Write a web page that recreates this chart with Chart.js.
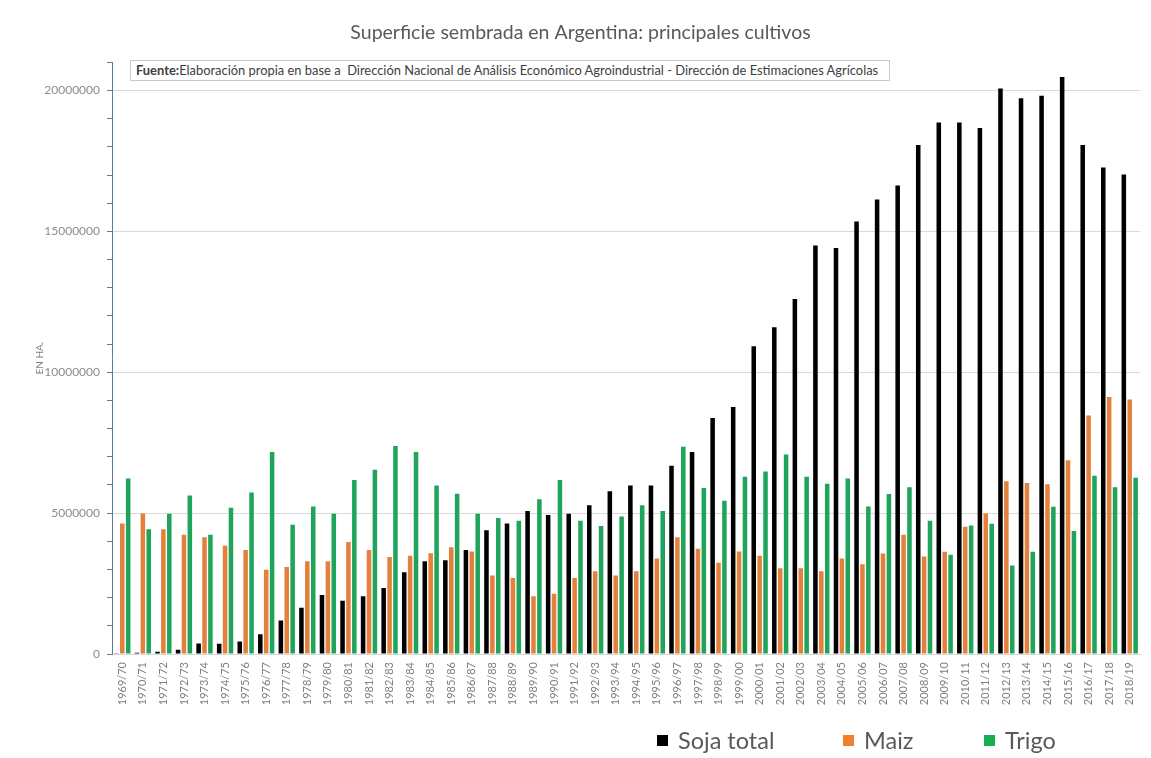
<!DOCTYPE html>
<html>
<head>
<meta charset="utf-8">
<script src="https://cdn.jsdelivr.net/npm/chart.js@4.4.1/dist/chart.umd.min.js"></script>
<style>
  html, body { margin: 0; padding: 0; background: #ffffff; }
  #wrap { position: relative; width: 1151px; height: 758px; }
  #c { position: absolute; left: 0; top: 0; }
  #fuente {
    position: absolute; left: 130px; top: 60px; width: 760px; height: 21px;
    border: 1px solid #c8c8c8; background: #fff; box-sizing: border-box;
    font-family: Lato, "Open Sans", sans-serif; font-size: 12.9px; color: #404040;
    line-height: 19px; padding-left: 5px; white-space: nowrap; overflow: hidden;
  }
  #fuente b { font-weight: 700; }
  #legend { position: absolute; top: 724px; left: 0; width: 1151px; height: 32px;
    font-family: Lato, "Open Sans", sans-serif; font-size: 23.5px; color: #595959; }
  .li { position: absolute; top: 0; display: flex; align-items: center; height: 32px; white-space: nowrap; }
  .sq { display: inline-block; width: 11px; height: 11px; margin-right: 10px; }
</style>
</head>
<body>
<div id="wrap">
  <canvas id="c" width="1151" height="758"></canvas>
  <div id="fuente"><b>Fuente:</b>Elaboración propia en base a&nbsp; Dirección Nacional de Análisis Económico Agroindustrial - Dirección de Estimaciones Agrícolas</div>
  <div id="legend"></div>
</div>
<script>
const categories = ["1969/70","1970/71","1971/72","1972/73","1973/74","1974/75","1975/76","1976/77","1977/78","1978/79",
  "1979/80","1980/81","1981/82","1982/83","1983/84","1984/85","1985/86","1986/87","1987/88","1988/89",
  "1989/90","1990/91","1991/92","1992/93","1993/94","1994/95","1995/96","1996/97","1997/98","1998/99",
  "1999/00","2000/01","2001/02","2002/03","2003/04","2004/05","2005/06","2006/07","2007/08","2008/09",
  "2009/10","2010/11","2011/12","2012/13","2013/14","2014/15","2015/16","2016/17","2017/18","2018/19"];

const sojaTotal = [30000,40000,80000,150000,370000,360000,440000,700000,1190000,1640000,
  2090000,1890000,2050000,2340000,2900000,3290000,3330000,3690000,4390000,4630000,
  5080000,4930000,4980000,5280000,5780000,5980000,5980000,6680000,7170000,8380000,
  8770000,10920000,11600000,12600000,14500000,14410000,15350000,16130000,16630000,18070000,
  18870000,18870000,18670000,20070000,19730000,19820000,20480000,18070000,17270000,17020000];

const maiz = [4630000,4990000,4430000,4230000,4140000,3840000,3690000,2990000,3090000,3290000,
  3290000,3980000,3690000,3440000,3490000,3580000,3790000,3640000,2790000,2700000,
  2050000,2140000,2700000,2940000,2790000,2940000,3390000,4140000,3740000,3240000,
  3640000,3490000,3040000,3040000,2940000,3390000,3190000,3570000,4230000,3460000,
  3630000,4520000,4990000,6130000,6070000,6030000,6880000,8470000,9120000,9030000];

const trigo = [6230000,4430000,4980000,5630000,4230000,5190000,5730000,7170000,4590000,5240000,
  4980000,6180000,6540000,7380000,7170000,5980000,5690000,4980000,4830000,4730000,
  5490000,6180000,4730000,4540000,4880000,5280000,5080000,7360000,5890000,5440000,
  6290000,6480000,7080000,6290000,6040000,6230000,5240000,5680000,5920000,4730000,
  3520000,4560000,4620000,3140000,3630000,5230000,4370000,6330000,5920000,6260000];

const seriesNames = ["Soja total", "Maiz", "Trigo"];
const seriesColors = ["#000000", "#E4803D", "#20A35A"];
const legendColors = ["#000000", "#F07F2E", "#12B04E"];
const legendLeft = [657, 843, 984];

const FONT = "Lato, 'Open Sans', sans-serif";

const legend = document.getElementById('legend');
seriesNames.forEach((n, i) => {
  const d = document.createElement('div');
  d.className = 'li';
  d.style.left = legendLeft[i] + 'px';
  d.innerHTML = '<span class="sq" style="background:' + legendColors[i] + '"></span>' + n;
  legend.appendChild(d);
});

const data = {
  labels: categories,
  datasets: [
    { label: seriesNames[0], data: sojaTotal, backgroundColor: seriesColors[0] },
    { label: seriesNames[1], data: maiz, backgroundColor: seriesColors[1] },
    { label: seriesNames[2], data: trigo, backgroundColor: seriesColors[2] }
  ]
};

new Chart(document.getElementById('c'), {
  type: 'bar',
  data: data,
  options: {
    responsive: false,
    animation: false,
    devicePixelRatio: 1,
    datasets: { bar: { categoryPercentage: 0.86, barPercentage: 0.77 } },
    layout: { padding: { left: 18, right: 8, top: 0, bottom: 0 } },
    plugins: {
      legend: { display: false },
      tooltip: { enabled: false },
      title: {
        display: true,
        text: 'Superficie sembrada en Argentina: principales cultivos',
        color: '#595959',
        font: { family: FONT, size: 19.5, weight: 'normal' },
        padding: { top: 21, bottom: 18 }
      }
    },
    scales: {
      x: {
        grid: { display: false, drawTicks: false },
        border: { display: true, color: '#D9D9D9' },
        ticks: {
          color: '#7f7f7f', font: { family: FONT, size: 11 },
          minRotation: 90, maxRotation: 90, autoSkip: false, padding: 8
        },
        afterFit: (s) => { s.height = 104; }
      },
      y: {
        min: 0, max: 21000000,
        afterBuildTicks: (s) => {
          const t = [];
          for (let v = 0; v <= 21000000; v += 1000000) t.push({ value: v });
          s.ticks = t;
        },
        ticks: {
          autoSkip: false,
          color: '#8c8c8c', font: { family: FONT, size: 12 }, padding: 7,
          callback: (v) => (v % 5000000 === 0 ? String(v) : '')
        },
        grid: {
          color: (ctx) => (ctx.tick && ctx.tick.value % 5000000 === 0 && ctx.tick.value > 0) ? '#D9D9D9' : 'rgba(0,0,0,0)',
          tickColor: '#5B7C9E', tickLength: 5, drawTicks: true
        },
        border: { display: true, color: '#5B7C9E', width: 1 },
        title: {
          display: true, text: 'EN HA.', color: '#7f7f7f',
          font: { family: FONT, size: 10 }, padding: { top: 16, bottom: 0 }
        },
        afterFit: (s) => { s.width = 94; }
      }
    }
  }
});
</script>
</body>
</html>
